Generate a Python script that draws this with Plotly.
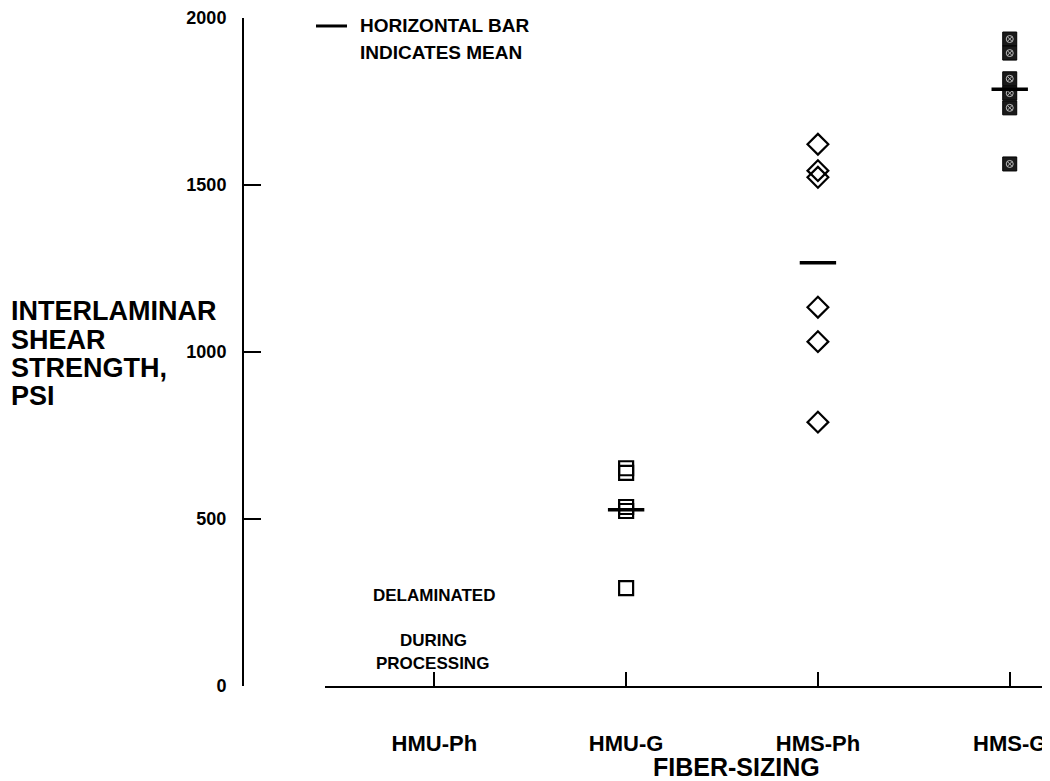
import plotly.graph_objects as go

# ---- data ----
categories = ["HMU-Ph", "HMU-G", "HMS-Ph", "HMS-G"]
cat_pos = [0, 1, 2, 3]

hmu_g_vals = [652, 638, 536, 524, 293]
hms_ph_vals = [1622, 1543, 1523, 1134, 1031, 790]
hms_g_vals = [1937, 1895, 1818, 1775, 1731, 1563]

mean_cats = [1, 2, 3]
mean_vals = [528, 1267, 1787]

y_ticks = [0, 500, 1000, 1500, 2000]

# ---- layout geometry (page is offset by 8px body margin) ----
OFF = 8
W, H = 1042, 773
ML, MR, MT, MB = 235, 0, 8, 95
PW, PH = W - ML - MR, H - MT - MB

def px_x(p):
    return (p - OFF - ML) / PW

def px_y(p):
    return (H - MB - (p - OFF)) / PH

FONT = "Liberation Sans"

fig = go.Figure()

fig.add_trace(go.Scatter(
    x=[cat_pos[1]] * len(hmu_g_vals), y=hmu_g_vals, mode="markers",
    marker=dict(symbol="square-open", size=14, color="black", line=dict(width=2.2, color="black")),
    showlegend=False, hoverinfo="y"))

fig.add_trace(go.Scatter(
    x=[cat_pos[2]] * len(hms_ph_vals), y=hms_ph_vals, mode="markers",
    marker=dict(symbol="diamond-open", size=16, color="black", line=dict(width=2.2, color="black")),
    showlegend=False, hoverinfo="y"))

fig.add_trace(go.Scatter(
    x=[cat_pos[3]] * len(hms_g_vals), y=hms_g_vals, mode="markers",
    marker=dict(symbol="square", size=14, color="#1a1a1a", line=dict(width=1, color="black")),
    showlegend=False, hoverinfo="y"))
# light texture inside filled squares
fig.add_trace(go.Scatter(
    x=[cat_pos[3]] * len(hms_g_vals), y=hms_g_vals, mode="markers",
    marker=dict(symbol="circle-x-open", size=7, color="#bbbbbb", line=dict(width=1, color="#bbbbbb")),
    showlegend=False, hoverinfo="skip"))

fig.add_trace(go.Scatter(
    x=mean_cats, y=mean_vals, mode="markers",
    marker=dict(symbol="line-ew", size=26, color="black", line=dict(width=3.5, color="black")),
    showlegend=False, hoverinfo="y"))

fig.update_layout(
    width=W, height=H,
    margin=dict(l=ML, r=MR, t=MT, b=MB),
    paper_bgcolor="white", plot_bgcolor="white",
    font=dict(family=FONT, color="black"),
    xaxis=dict(
        domain=[px_x(325), 1], range=[-0.57, 3.21],
        tickvals=cat_pos, ticktext=categories,
        showline=True, linecolor="black", linewidth=2,
        ticks="inside", ticklen=14, tickwidth=1.5, tickcolor="black",
        showgrid=False, zeroline=False,
        tickfont=dict(family=FONT, size=22, weight="bold", color="black"),
        ticklabelstandoff=37, ticklabeloverflow="allow",
    ),
    yaxis=dict(
        anchor="free", position=0,
        range=[0, 2000], tickvals=y_ticks,
        showline=True, linecolor="black", linewidth=2,
        ticks="inside", ticklen=17, tickwidth=1.5, tickcolor="black",
        showgrid=False, zeroline=False,
        tickfont=dict(family=FONT, size=18, weight="bold", color="black"),
        ticklabelstandoff=12, ticklabeloverflow="allow",
    ),
)

annots = []
# x-axis title
annots.append(dict(text="FIBER-SIZING", x=px_x(736), y=px_y(767), xref="paper", yref="paper",
                   showarrow=False, xanchor="center", yanchor="middle",
                   font=dict(family=FONT, size=25, weight="bold")))
# y-axis title lines
for txt, yy in [("INTERLAMINAR", 310), ("SHEAR", 339), ("STRENGTH,", 367), ("PSI", 395)]:
    annots.append(dict(text=txt, x=px_x(9), y=px_y(yy), xref="paper", yref="paper",
                       showarrow=False, xanchor="left", yanchor="middle",
                       font=dict(family=FONT, size=27, weight="bold")))
# legend note
for txt, yy in [("HORIZONTAL BAR", 24), ("INDICATES MEAN", 51)]:
    annots.append(dict(text=txt, x=px_x(358), y=px_y(yy), xref="paper", yref="paper",
                       showarrow=False, xanchor="left", yanchor="middle",
                       font=dict(family=FONT, size=19, weight="bold")))
# delaminated note
for txt, xx, yy in [("DELAMINATED", 434, 595), ("DURING", 433, 640), ("PROCESSING", 432, 663)]:
    annots.append(dict(text=txt, x=px_x(xx), y=px_y(yy), xref="paper", yref="paper",
                       showarrow=False, xanchor="center", yanchor="middle",
                       font=dict(family=FONT, size=17, weight="bold")))
fig.update_layout(annotations=annots)

fig.add_shape(type="line", xref="paper", yref="paper",
              x0=px_x(316), x1=px_x(347), y0=px_y(24), y1=px_y(24),
              line=dict(color="black", width=3))

fig.write_html("out.html")
